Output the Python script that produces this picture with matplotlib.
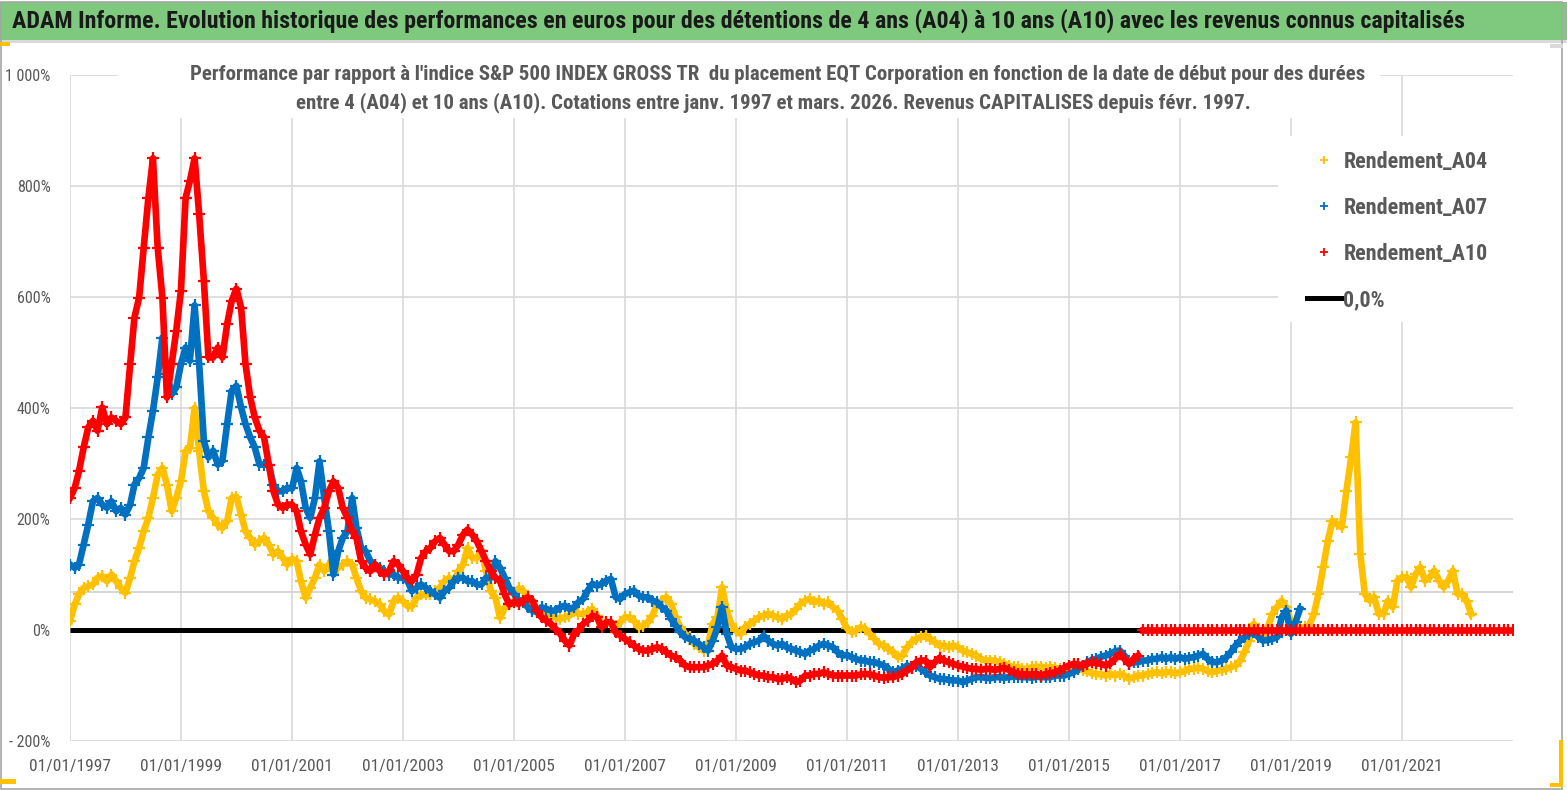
import matplotlib
matplotlib.use("Agg")
import matplotlib.pyplot as plt
from matplotlib import font_manager
from matplotlib.lines import Line2D
from matplotlib.patches import Rectangle
import pandas as pd

TITLE = ("ADAM Informe. Evolution historique des performances en euros pour des détentions "
         "de 4 ans (A04) à 10 ans (A10) avec les revenus connus capitalisés")
SUBTITLE_1 = ("Performance par rapport à l'indice S&P 500 INDEX GROSS TR  du placement EQT Corporation "
              "en fonction de la date de début pour des durées")
SUBTITLE_2 = ("entre 4 (A04) et 10 ans (A10). Cotations entre janv. 1997 et mars. 2026. "
              "Revenus CAPITALISES depuis févr. 1997.")

# monthly readings (%), first month = January 1997
a04 = [
    16, 46, 64, 76, 79, 82, 94, 97, 88, 100, 88, 76,
    67, 94, 124, 148, 178, 202, 238, 280, 292, 262, 214, 238,
    268, 322, 328, 400, 322, 250, 214, 202, 190, 184, 196, 238,
    240, 208, 178, 166, 154, 160, 166, 154, 136, 142, 130, 118,
    128, 124, 88, 58, 76, 94, 118, 106, 118, 124, 112, 118,
    124, 118, 94, 70, 58, 55, 52, 46, 34, 28, 52, 58,
    52, 43, 43, 58, 64, 64, 64, 70, 76, 88, 94, 88,
    106, 118, 148, 130, 130, 142, 106, 70, 58, 22, 40, 46,
    50, 75, 71, 59, 41, 35, 29, 29, 23, 23, 20, 23,
    26, 35, 29, 29, 32, 38, 26, 11, 14, 11, 8, 14,
    23, 23, 17, 5, 8, 14, 26, 47, 53, 59, 47, 23,
    5, -7, -13, -25, -31, -37, -25, 11, 23, 77, 35, 11,
    -1, -7, 5, 11, 17, 23, 26, 29, 26, 23, 20, 26,
    29, 38, 47, 53, 56, 50, 53, 47, 50, 41, 35, 20,
    3, -4, -1, 5, 2, -7, -16, -25, -28, -34, -40, -49,
    -46, -31, -22, -16, -13, -10, -16, -22, -28, -28, -31, -28,
    -31, -37, -40, -43, -46, -52, -55, -55, -55, -58, -61, -64,
    -67, -67, -70, -70, -67, -67, -66, -68, -67, -68, -70, -72,
    -73, -73, -70, -72, -74, -78, -79, -80, -82, -79, -82, -79,
    -82, -88, -85, -82, -82, -79, -78, -76, -78, -76, -76, -78,
    -76, -74, -70, -70, -68, -70, -74, -76, -74, -72, -70, -67,
    -64, -55, -40, -19, 11, -7, -19, 5, 29, 41, 53, 41,
    15, 2, 2, 5, 8, 29, 65, 113, 161, 197, 191, 185,
    251, 311, 374, 137, 65, 53, 59, 29, 29, 53, 41, 89,
    95, 95, 77, 101, 113, 89, 95, 107, 89, 77, 89, 107,
    65, 65, 53, 29,
]

a07 = [
    118, 112, 118, 154, 190, 232, 238, 226, 220, 232, 214, 220,
    208, 226, 262, 274, 292, 347, 395, 455, 527, 461, 425, 437,
    479, 509, 485, 585, 479, 341, 311, 323, 298, 305, 371, 431,
    440, 401, 371, 347, 329, 298, 298, 298, 262, 250, 250, 256,
    255, 292, 268, 220, 202, 238, 304, 238, 178, 100, 142, 166,
    178, 238, 184, 148, 142, 124, 118, 112, 106, 100, 100, 94,
    94, 88, 70, 76, 82, 76, 70, 64, 58, 70, 76, 88,
    94, 94, 88, 88, 82, 82, 94, 94, 124, 112, 94, 76,
    65, 53, 53, 41, 35, 32, 41, 38, 35, 35, 41, 44,
    38, 41, 50, 56, 71, 83, 80, 83, 89, 92, 59, 56,
    65, 68, 71, 62, 59, 59, 53, 50, 41, 35, 20, 8,
    -4, -13, -16, -19, -25, -31, -37, -19, 5, 41, -7, -31,
    -34, -34, -31, -25, -22, -19, -10, -19, -25, -28, -25, -31,
    -34, -37, -40, -43, -37, -34, -28, -25, -28, -31, -40, -46,
    -45, -49, -52, -55, -55, -58, -58, -61, -64, -70, -76, -73,
    -70, -64, -66, -64, -70, -76, -82, -85, -88, -88, -90, -91,
    -91, -94, -91, -88, -85, -85, -86, -87, -85, -85, -86, -85,
    -84, -84, -85, -85, -86, -84, -85, -85, -85, -82, -82, -82,
    -79, -76, -70, -64, -58, -54, -52, -48, -46, -43, -38, -37,
    -46, -61, -58, -58, -55, -55, -52, -52, -49, -52, -49, -52,
    -49, -52, -50, -49, -46, -43, -52, -58, -58, -55, -49, -40,
    -28, -19, -13, -7, -4, -13, -19, -18, -16, -13, 23, 35,
    -7, 15, 38,
]

a10 = [
    238, 256, 286, 329, 365, 377, 359, 401, 371, 383, 377, 371,
    383, 479, 563, 599, 689, 779, 850, 689, 599, 419, 479, 539,
    611, 779, 809, 850, 749, 629, 491, 491, 509, 491, 551, 593,
    615, 581, 479, 419, 383, 359, 347, 298, 250, 226, 220, 226,
    226, 214, 178, 154, 136, 172, 202, 220, 250, 268, 256, 220,
    202, 178, 166, 124, 112, 106, 118, 106, 100, 106, 124, 118,
    106, 94, 88, 100, 130, 142, 148, 160, 166, 154, 142, 142,
    154, 172, 181, 172, 160, 142, 124, 106, 94, 88, 64, 46,
    50, 47, 53, 59, 53, 35, 23, 17, 11, 2, -7, -19,
    -28, -7, -1, 11, 17, 26, 23, 5, 14, 14, -4, -10,
    -16, -22, -28, -34, -37, -37, -34, -31, -34, -40, -46, -49,
    -55, -64, -67, -67, -67, -67, -64, -61, -55, -46, -64, -67,
    -70, -73, -73, -76, -79, -82, -82, -85, -85, -88, -88, -85,
    -88, -94, -91, -82, -82, -79, -79, -76, -79, -82, -82, -82,
    -82, -82, -82, -80, -79, -80, -82, -85, -86, -85, -85, -82,
    -79, -73, -68, -58, -55, -55, -67, -58, -50, -55, -58, -61,
    -64, -66, -68, -70, -70, -72, -70, -70, -72, -70, -68, -72,
    -76, -79, -80, -80, -80, -79, -82, -79, -78, -76, -73, -68,
    -64, -61, -62, -64, -61, -58, -60, -61, -64, -60, -52, -43,
    -52, -61, -52, -46,
]

# A10 after May 2016: no full 10-year window, values shown at 0
a10_tail = [
    0, 0, 0, 0, 0, 0, 0, 0,
    0, 0, 0, 0, 0, 0, 0, 0, 0, 0, 0, 0,
    0, 0, 0, 0, 0, 0, 0, 0, 0, 0, 0, 0,
    0, 0, 0, 0, 0, 0, 0, 0, 0, 0, 0, 0,
    0, 0, 0, 0, 0, 0, 0, 0, 0, 0, 0, 0,
    0, 0, 0, 0, 0, 0, 0, 0, 0, 0, 0, 0,
    0, 0, 0, 0, 0, 0, 0, 0, 0, 0, 0, 0,
    0,
]
a10_tail_start = "2016-05-01"

zero_line_dates = ["1997-01-01", "2016-05-01"]
zero_line_values = [0, 0]

series_labels = ["Rendement_A04", "Rendement_A07", "Rendement_A10"]
series_colors = ["#FFC000", "#0070C0", "#FF0000"]
y_ticks = [-200, 0, 200, 400, 600, 800, 1000]
y_tick_labels = ["- 200%", "0%", "200%", "400%", "600%", "800%", "1 000%"]
x_tick_years = [1997, 1999, 2001, 2003, 2005, 2007, 2009, 2011, 2013, 2015, 2017, 2019, 2021]

available = {f.name for f in font_manager.fontManager.ttflist}
narrow = [n for n in ["Liberation Sans Narrow", "Roboto Condensed", "Open Sans Condensed"] if n in available]
FONT = narrow[:1] + ["Liberation Sans", "DejaVu Sans"]
GREY = "#595959"

plt.rcParams["font.family"] = FONT

W, H = 1567, 790
fig = plt.figure(figsize=(W / 100, H / 100), dpi=100)
fig.patch.set_facecolor("white")

ax = fig.add_axes([70 / W, 1 - 741 / H, (1513 - 70) / W, (741 - 75) / H])

for vals, color, label, z in zip([a04, a07, a10], series_colors, series_labels, [3, 4, 5]):
    dates = pd.date_range("1997-01-01", periods=len(vals), freq="MS")
    ax.plot(dates, vals, color=color, lw=4.8, marker="+", ms=8.5, mew=1.6,
            solid_joinstyle="round", zorder=z, label=label)

tail_dates = pd.date_range(a10_tail_start, periods=len(a10_tail), freq="MS")
ax.plot(tail_dates, a10_tail, color=series_colors[2], lw=4.8, marker="+", ms=8.5, mew=1.6, zorder=5)

ax.plot(pd.to_datetime(zero_line_dates), zero_line_values, color="black", lw=3.6,
        zorder=2.5, solid_capstyle="butt")

ax.axhline(68, color="#D0D0D0", lw=1.2, zorder=1)

ax.set_xlim(pd.Timestamp("1997-01-01"), pd.Timestamp("2023-01-01"))
ax.set_ylim(-200, 1000)
ax.set_yticks(y_ticks)
ax.set_yticklabels(y_tick_labels)
xt = [pd.Timestamp(f"{y}-01-01") for y in x_tick_years]
ax.set_xticks(xt)
ax.set_xticklabels([f"01/01/{y}" for y in x_tick_years])
ax.tick_params(axis="both", length=0, colors=GREY, labelsize=11.5)
ax.tick_params(axis="x", labelsize=12.5, pad=13)
ax.tick_params(axis="y", pad=14)
ax.grid(True, color="#D9D9D9", lw=1.2, zorder=0)
ax.set_axisbelow(True)
for s in ax.spines.values():
    s.set_visible(False)

# white box behind the legend (hides the grid there)
ax.add_patch(Rectangle((1278 / W, 1 - 322 / H), (1514 - 1278) / W, (322 - 136) / H,
                       transform=fig.transFigure, facecolor="white", edgecolor="none",
                       zorder=6, clip_on=False))

# subtitle on a white box covering the grid
fig.patches.append(Rectangle((118 / W, 1 - 118 / H), (1380 - 118) / W, (118 - 52) / H,
                             transform=fig.transFigure, facecolor="white",
                             edgecolor="none", zorder=10))
sub1 = fig.text(778 / W, 1 - 74 / H, SUBTITLE_1, ha="center", va="center", fontsize=14,
                fontweight="bold", color=GREY, zorder=11)
sub2 = fig.text(773 / W, 1 - 103 / H, SUBTITLE_2, ha="center", va="center", fontsize=14,
                fontweight="bold", color=GREY, zorder=11)

# title banner
fig.patches.append(Rectangle((0, 1 - 40 / H), 1, 38 / H, transform=fig.transFigure,
                             facecolor="#7FC97F", edgecolor="none", zorder=10))
fig.patches.append(Rectangle((0, 1 - 43 / H), 1, 3 / H, transform=fig.transFigure,
                             facecolor="#D9D9D9", edgecolor="none", zorder=10))
title = fig.text(12 / W, 1 - 21 / H, TITLE, ha="left", va="center", fontsize=16,
                 fontweight="bold", color="#1A1A1A", zorder=11)

# scale title texts to the widths they take in the reference
renderer = fig.canvas.get_renderer()
for txt, target in [(title, 1448), (sub1, 1182)]:
    w = txt.get_window_extent(renderer).width
    txt.set_fontsize(txt.get_fontsize() * target / w)
sub2.set_fontsize(sub1.get_fontsize())

# frame decorations
fig.patches.append(Rectangle((1 / W, 1 / H), (W - 6) / W, (H - 3) / H, transform=fig.transFigure,
                             facecolor="none", edgecolor="#A6A6A6", lw=1.2, zorder=12))
fig.patches.append(Rectangle((0, 1 - 46 / H), 10 / W, 4 / H, transform=fig.transFigure,
                             facecolor="#FFC000", edgecolor="none", zorder=12))
fig.patches.append(Rectangle((0, 6 / H), 16 / W, 5 / H, transform=fig.transFigure,
                             facecolor="#FFC000", edgecolor="none", zorder=12))
fig.patches.append(Rectangle((1550 / W, 3 / H), 13 / W, 4 / H, transform=fig.transFigure,
                             facecolor="#FFC000", edgecolor="none", zorder=12))
fig.patches.append(Rectangle((1559 / W, 3 / H), 4 / W, 47 / H, transform=fig.transFigure,
                             facecolor="#FFC000", edgecolor="none", zorder=12))
fig.patches.append(Rectangle((1550 / W, 1 - 48 / H), 13 / W, 4 / H, transform=fig.transFigure,
                             facecolor="#D9D9D9", edgecolor="none", zorder=12))

handles = [Line2D([], [], color=c, marker="+", ls="none", ms=6, mew=1.3) for c in series_colors]
handles.append(Line2D([], [], color="black", lw=3.6))
labels = series_labels + ["0,0%"]
leg = ax.legend(handles, labels, loc="upper left",
                bbox_to_anchor=(1294 / W, 1 - 138 / H), bbox_transform=fig.transFigure,
                frameon=False, fontsize=15.8, labelspacing=1.09, handlelength=1.55,
                handletextpad=0.1, borderpad=0.6, borderaxespad=0)
leg.set_zorder(20)
for t in leg.get_texts():
    t.set_color(GREY)
    t.set_fontweight("bold")

fig.savefig("out.png", dpi=100, facecolor="white")
